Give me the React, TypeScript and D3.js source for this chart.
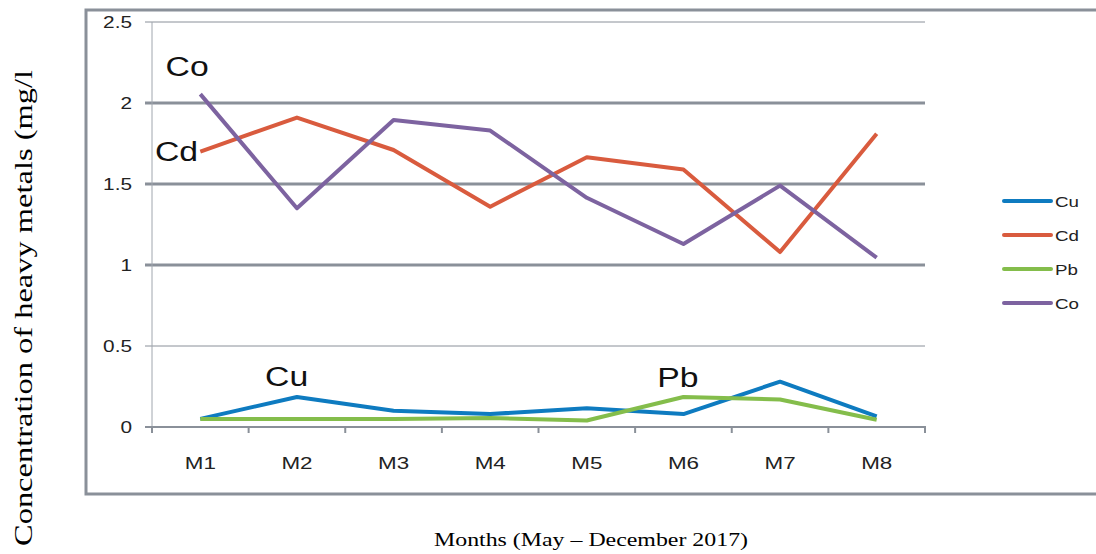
import React, { useRef, useEffect } from "react";
import * as d3 from "d3";

const months = ["M1", "M2", "M3", "M4", "M5", "M6", "M7", "M8"];
const cu = [0.05, 0.185, 0.1, 0.08, 0.115, 0.08, 0.28, 0.065];
const cd = [1.7, 1.91, 1.71, 1.36, 1.665, 1.59, 1.08, 1.81];
const pb = [0.05, 0.05, 0.05, 0.055, 0.04, 0.185, 0.17, 0.045];
const co = [2.055, 1.35, 1.895, 1.83, 1.415, 1.13, 1.49, 1.045];
const yTicks = [0, 0.5, 1, 1.5, 2, 2.5];

const series = [
  { name: "Cu", values: cu, color: "#0E7BC0" },
  { name: "Cd", values: cd, color: "#D95B3E" },
  { name: "Pb", values: pb, color: "#84BD4B" },
  { name: "Co", values: co, color: "#7D63A0" },
];

// in-plot labels: [name, month position of left edge, value at baseline]
const callouts: [string, number, number][] = [
  ["Co", -0.36, 2.22],
  ["Cd", -0.47, 1.70],
  ["Cu", 0.67, 0.31],
  ["Pb", 4.73, 0.30],
];

const SANS = "'Liberation Sans', Arial, sans-serif";
const SERIF = "'Liberation Serif', 'Times New Roman', serif";

export default function App() {
  const ref = useRef<SVGSVGElement>(null);

  useEffect(() => {
    const W = 1096;
    const svg = d3.select(ref.current);
    svg.selectAll("*").remove();

    const left = 152, right = 925, top = 22, bottom = 427;
    const x = d3.scaleBand().domain(months).range([left, right]);
    const y = d3.scaleLinear().domain([0, 2.5]).range([bottom, top]);
    const cx = (i: number) => x(months[0])! + x.bandwidth() * (i + 0.5);

    // the source renders its sans text noticeably wide
    const wide = (tx: number, ty: number, s: string, size: number, sx: number, anchor = "start") =>
      svg.append("text")
        .attr("transform", `translate(${tx},${ty}) scale(${sx},1)`)
        .attr("text-anchor", anchor)
        .attr("font-family", SANS)
        .attr("font-size", size)
        .attr("fill", "#222")
        .text(s);

    // outer frame
    svg.append("path")
      .attr("d", `M${W},10 H86 V494 H${W}`)
      .attr("fill", "none")
      .attr("stroke", "#8A9099")
      .attr("stroke-width", 3);

    // gridlines
    yTicks.forEach(t => {
      if (t === 0) return;
      const thick = t >= 1 && t <= 2;
      svg.append("line")
        .attr("x1", left - 7).attr("x2", right)
        .attr("y1", y(t)).attr("y2", y(t))
        .attr("stroke", "#8A9099")
        .attr("stroke-width", thick ? 3 : 1);
    });

    // y axis
    svg.append("line")
      .attr("x1", left).attr("x2", left)
      .attr("y1", top).attr("y2", bottom)
      .attr("stroke", "#A0A6AE").attr("stroke-width", 1);
    yTicks.forEach(t => wide(left - 20, y(t) + 6, String(t), 16, 1.3, "end"));

    // x axis
    svg.append("line")
      .attr("x1", left - 7).attr("x2", right + 1)
      .attr("y1", bottom).attr("y2", bottom)
      .attr("stroke", "#8A9099").attr("stroke-width", 2);
    d3.range(months.length + 1).forEach(i => {
      const xx = left + x.bandwidth() * i;
      svg.append("line")
        .attr("x1", xx).attr("x2", xx)
        .attr("y1", bottom).attr("y2", bottom + 6)
        .attr("stroke", "#8A9099").attr("stroke-width", 2);
    });
    months.forEach(m => wide(x(m)! + x.bandwidth() / 2, 469, m, 16, 1.4, "middle"));

    // lines
    const line = d3.line<number>()
      .x((_, i) => cx(i))
      .y(d => y(d));
    series.forEach(s => {
      svg.append("path")
        .attr("d", line(s.values))
        .attr("fill", "none")
        .attr("stroke", s.color)
        .attr("stroke-width", 4)
        .attr("stroke-linejoin", "round");
    });

    // callouts
    callouts.forEach(([name, i, v]) => {
      wide(cx(i), y(v) + 9, name, 27, 1.25).attr("fill", "#111");
    });

    // legend
    series.forEach((s, i) => {
      const ly = 201 + i * 34;
      svg.append("line")
        .attr("x1", 1004).attr("x2", 1051)
        .attr("y1", ly).attr("y2", ly)
        .attr("stroke", s.color).attr("stroke-width", 4)
        .attr("stroke-linecap", "round");
      wide(1055, ly + 6, s.name, 15, 1.25);
    });

    // axis titles
    svg.append("text")
      .attr("transform", `translate(32,${308}) rotate(-90)`)
      .attr("text-anchor", "middle")
      .attr("font-family", SERIF)
      .attr("font-size", 26)
      .attr("textLength", 476)
      .attr("lengthAdjust", "spacingAndGlyphs")
      .attr("fill", "#000")
      .text("Concentration of heavy metals (mg/l");
    svg.append("text")
      .attr("x", 591).attr("y", 546)
      .attr("text-anchor", "middle")
      .attr("font-family", SERIF)
      .attr("font-size", 19)
      .attr("textLength", 314)
      .attr("lengthAdjust", "spacingAndGlyphs")
      .attr("fill", "#000")
      .text("Months (May \u2013 December 2017)");
  }, []);

  return (
    <svg
      ref={ref}
      width={1096}
      height={554}
      style={{ position: "absolute", left: 0, top: 0, background: "#fff" }}
    />
  );
}
